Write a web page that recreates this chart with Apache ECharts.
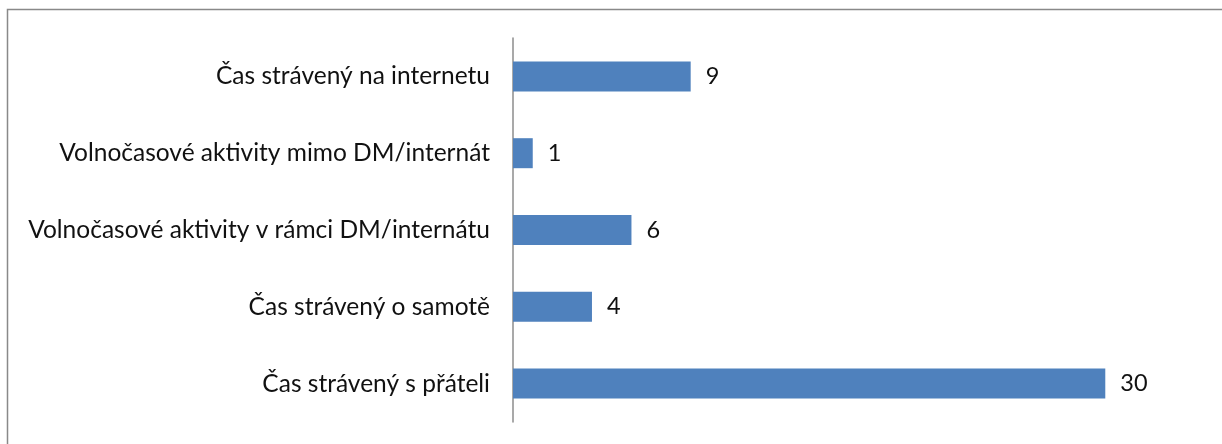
<!DOCTYPE html>
<html>
<head>
<meta charset="utf-8">
<script src="https://cdn.jsdelivr.net/npm/echarts@6/dist/echarts.min.js"></script>
<style>
  html, body { margin: 0; padding: 0; background: #fff; }
  #chart { width: 1222px; height: 444px; }
</style>
</head>
<body>
<div id="chart"></div>
<script>
// bottom to top
var categories = [
  'Čas strávený s přáteli',
  'Čas strávený o samotě',
  'Volnočasové aktivity v rámci DM/internátu',
  'Volnočasové aktivity mimo DM/internát',
  'Čas strávený na internetu'
]
var values = [30, 4, 6, 1, 9]

var chart = echarts.init(document.getElementById('chart'))
chart.setOption({
  backgroundColor: '#fff',
  animation: false,
  textStyle: { fontFamily: 'Lato' },
  graphic: [
    {
      type: 'rect',
      shape: { x: 7.5, y: 9.5, width: 1300, height: 500 },
      style: { fill: 'none', stroke: '#898989', lineWidth: 1.5 },
      silent: true
    }
  ],
  grid: {
    left: 513,
    right: 18,
    top: 38,
    bottom: 22,
    containLabel: false
  },
  xAxis: {
    type: 'value',
    min: 0,
    max: 35,
    show: false
  },
  yAxis: {
    type: 'category',
    data: categories,
    axisTick: { show: false },
    axisLine: { show: true, lineStyle: { color: '#8c8c8c', width: 1.5 } },
    axisLabel: {
      color: '#111',
      fontSize: 24.5,
      fontFamily: 'Lato',
      margin: 23
    },
    splitLine: { show: false }
  },
  series: [
    {
      type: 'bar',
      data: values,
      barWidth: 30,
      itemStyle: { color: '#4f81bd' },
      label: {
        show: true,
        position: 'right',
        distance: 15,
        color: '#111',
        fontSize: 23.5,
        fontFamily: 'Lato'
      }
    }
  ]
})
</script>
</body>
</html>
